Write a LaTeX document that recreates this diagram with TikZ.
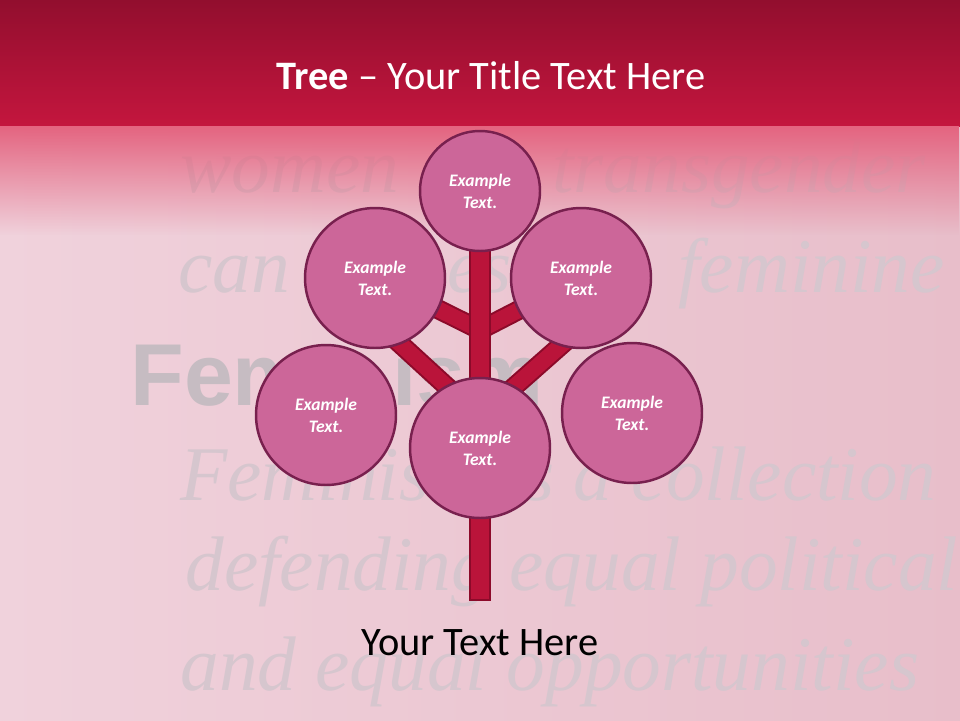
\documentclass[tikz,border=0pt]{standalone}
\usepackage{fontspec}
\setmainfont{Carlito}
\newfontfamily\ghostserif{Liberation Serif}
\newfontfamily\ghostsans{Liberation Sans}
\usetikzlibrary{fadings}
\definecolor{headtop}{RGB}{146,14,46}
\definecolor{headbot}{RGB}{196,22,62}
\definecolor{headfade}{RGB}{228,100,128}
\definecolor{bgleft}{RGB}{240,210,220}
\definecolor{bgpink}{RGB}{246,210,223}
\definecolor{bgright}{RGB}{232,190,202}
\definecolor{ghost}{RGB}{214,198,206}
\definecolor{ghostbold}{RGB}{198,188,194}
\definecolor{budfill}{RGB}{204,102,153}
\definecolor{budline}{RGB}{120,32,78}
\definecolor{woodfill}{RGB}{186,20,58}
\definecolor{woodline}{RGB}{140,10,42}
\tikzfading[name=fadedown,top color=transparent!0,bottom color=transparent!100]
\pgfdeclarelayer{back}
\pgfdeclarelayer{wood}
\pgfsetlayers{back,wood,main}
\tikzset{
  bud/.style={circle,draw=budline,line width=1.4pt,fill=budfill,inner sep=0pt,
    minimum size=#1,text=white,align=center,
    font=\fontsize{10}{12.5}\selectfont\bfseries\itshape},
  bud/.default=2.8cm,
  ghosttext/.style={text=ghost,anchor=base west,inner sep=0pt,
    font=\ghostserif\itshape\fontsize{44}{50}\selectfont}
}
% limb: from, to, outer width, inner width
\newcommand\limb[4]{%
  \draw[woodline,line width=#3](#1)--(#2);
  \draw[woodfill,line width=#4,shorten >=1.2pt](#1)--(#2);}
\begin{document}
\begin{tikzpicture}[x=0.02cm,y=-0.02cm]
\useasboundingbox(0,0)rectangle(960,720);
\begin{pgfonlayer}{back}
\shade[left color=bgleft,middle color=bgpink,right color=bgright](0,0)rectangle(960,720);
% blurred words of the photo behind, only the parts that show
\node[ghosttext](g1)at(180,192){women};
\node[ghosttext](g2)at(552,192){transgender};
\node[ghosttext](g3)at(178,292){can};
\node[ghosttext](g4)at(447,292){es};
\node[ghosttext,anchor=base east](g5)at(945,292){feminine};
\node[ghosttext,text=ghostbold,font=\ghostsans\bfseries\fontsize{50}{56}\selectfont](g6)at(130,405){Fem};
\node[ghosttext,text=ghostbold,font=\ghostsans\bfseries\fontsize{50}{56}\selectfont](g7)at(392,405){ism};
\node[ghosttext](g8)at(180,500){Feminis};
\node[ghosttext](g9)at(524,500){s a collection};
\node[ghosttext](g10)at(185,590){defending equal political};
\node[ghosttext](g11)at(180,690){and equal opportunities};
% header band
\shade[top color=headtop,bottom color=headbot](0,0)rectangle(960,126);
\fill[headfade,path fading=fadedown](0,126)rectangle(960,235);
\end{pgfonlayer}
\node[white,font=\fontsize{23}{28}\selectfont](title)at(491,76){\textbf{Tree} -- Your Title Text Here};
\node[font=\fontsize{23}{28}\selectfont](caption)at(480,643){Your Text Here};
\node[bud=2.4cm](tp)at(480,191){Example\\Text.};
\node[bud](ul)at(375,278){Example\\Text.};
\node[bud](ur)at(581,278){Example\\Text.};
\node[bud](lf)at(326,415){Example\\Text.};
\node[bud](rt)at(632,413){Example\\Text.};
\node[bud](cn)at(480,448){Example\\Text.};
\coordinate(root)at(480,601);
\coordinate(fork)at(480,330);
\coordinate(low)at(480,417);
\coordinate(lowl)at(385,330);
\coordinate(lowr)at(575,333);
\begin{pgfonlayer}{wood}
\limb{ul.center}{fork}{11.3pt}{9pt}
\limb{ur.center}{fork}{11.3pt}{9pt}
\limb{low}{lowl}{11.3pt}{9pt}
\limb{low}{lowr}{11.3pt}{9pt}
\limb{tp.center}{root}{13pt}{10.6pt}
\end{pgfonlayer}
\end{tikzpicture}
\end{document}
